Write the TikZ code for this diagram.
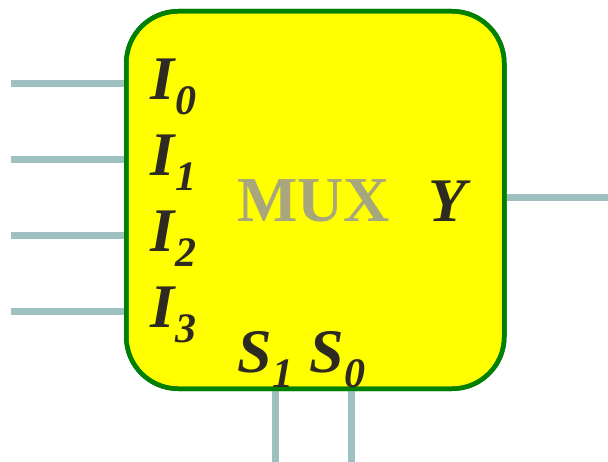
\documentclass[tikz,border=0pt]{standalone}
\usepackage{fontspec}
\setmainfont{Liberation Serif}
\definecolor{boxgreen}{HTML}{008000}
\definecolor{boxyellow}{HTML}{FFFF00}
\definecolor{wire}{HTML}{9FC0C0}
\definecolor{ink}{HTML}{2D2A22}
\definecolor{muxgray}{HTML}{A8A67C}
\tikzset{
  wireline/.style={draw=wire,line width=7pt},
  sig/.style={anchor=base west,inner sep=0pt,outer sep=0pt,text=ink,font=\fontsize{62}{62}\selectfont\bfseries\itshape},
}
\newcommand{\sbs}[1]{\kern1pt\raisebox{-15pt}{\fontsize{42}{42}\selectfont #1}}
\begin{document}
\begin{tikzpicture}[x=1pt,y=-1pt]
\useasboundingbox (0,0) rectangle (608,462);
% free ends of wires
\coordinate (i0) at (11,84);
\coordinate (i1) at (11,160);
\coordinate (i2) at (11,236);
\coordinate (i3) at (11,312);
\coordinate (yo) at (608,198);
\coordinate (s1) at (275,462);
\coordinate (s0) at (351,462);
% box
\node[draw=boxgreen,fill=boxyellow,line width=4.5pt,rounded corners=52pt,
      minimum width=378pt,minimum height=377.5pt,inner sep=0pt,anchor=north west]
      (box) at (124,9) {};
% wires
\draw[wireline] (i0) -- (box.west |- i0);
\draw[wireline] (i1) -- (box.west |- i1);
\draw[wireline] (i2) -- (box.west |- i2);
\draw[wireline] (i3) -- (box.west |- i3);
\draw[wireline] (box.east |- yo) -- (yo);
\draw[wireline] (box.south -| s1) -- (s1);
\draw[wireline] (box.south -| s0) -- (s0);
% redraw border on top of wire ends
\node[draw=boxgreen,line width=4.5pt,rounded corners=52pt,
      minimum width=378pt,minimum height=377.5pt,inner sep=0pt,anchor=north west]
      (boxb) at (124,9) {};
% labels
\node[sig] (l0) at (150,100) {I\sbs{0}};
\node[sig] (l1) at (150,176) {I\sbs{1}};
\node[sig] (l2) at (150,252) {I\sbs{2}};
\node[sig] (l3) at (150,328) {I\sbs{3}};
\node[anchor=base west,inner sep=0pt,text=muxgray,font=\fontsize{64}{64}\selectfont\bfseries] (mux) at (237,222) {MUX};
\node[sig] (ly) at (428,222) {Y};
\node[sig] (ls1) at (237,373) {S\sbs{1}};
\node[sig] (ls0) at (309,373) {S\sbs{0}};
\end{tikzpicture}
\end{document}
